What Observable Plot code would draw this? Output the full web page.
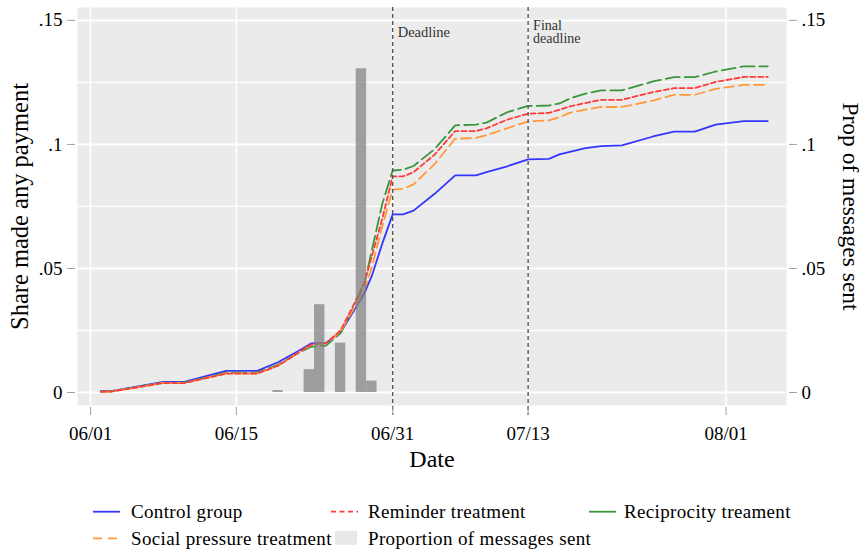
<!DOCTYPE html>
<html><head><meta charset="utf-8">
<script src="https://cdn.jsdelivr.net/npm/d3@7"></script>
<script src="https://cdn.jsdelivr.net/npm/@observablehq/plot@0.6"></script>
<style>
body{margin:0;background:#fff;}
#chart svg{display:block;}
#legend{display:block;}
</style></head>
<body><div id="chart"></div><div id="legendwrap"></div>
<script>
// day index: 0 = 06/01
const days =        [1, 2, 7, 9, 13, 16, 18, 20, 21.2, 22.6, 24, 25.3, 26.3, 27, 28, 29, 30, 31, 33, 35, 37, 38, 40, 42, 44, 45, 46, 47.5, 49, 51, 54, 56, 58, 60, 62.7, 65];
const control =     [.0006,.0006,.0043,.0043,.0087,.0087,.0122,.0168,.0198,.0200,.0242,.0331,.0402,.0470,.0600,.0718,.0718,.0733,.0800,.0875,.0875,.0888,.0912,.0940,.0942,.0960,.0970,.0985,.0993,.0996,.1032,.1052,.1052,.1080,.1094,.1094];
const reminder =    [.0003,.0004,.0038,.0038,.0076,.0076,.0108,.0162,.0194,.0199,.0250,.0357,.0445,.0550,.0700,.0871,.0871,.0888,.0958,.1054,.1054,.1065,.1100,.1124,.1127,.1140,.1153,.1167,.1180,.1180,.1211,.1227,.1227,.1252,.1272,.1272];
const social =      [.0003,.0004,.0039,.0039,.0077,.0077,.0108,.0163,.0192,.0197,.0245,.0340,.0415,.0505,.0670,.0818,.0821,.0839,.0920,.1023,.1026,.1037,.1065,.1093,.1097,.1110,.1127,.1140,.1151,.1151,.1177,.1200,.1200,.1224,.1240,.1240];
const reciprocity = [.0004,.0005,.0040,.0040,.0080,.0080,.0112,.0160,.0185,.0189,.0240,.0345,.0440,.0573,.0760,.0895,.0898,.0913,.0980,.1077,.1080,.1088,.1130,.1155,.1157,.1165,.1185,.1205,.1218,.1218,.1254,.1271,.1271,.1294,.1315,.1315];

const barDays =   [18, 21, 22, 24, 26, 27];
const barValues = [.0008, .0092, .0354, .0199, .1305, .0046];

const xTicks = [0, 14, 29, 42, 61];
const xTickLabels = ["06/01", "06/15", "06/31", "07/13", "08/01"];
const yTicks = [0, .05, .1, .15];
const yTickLabels = ["0", ".05", ".1", ".15"];
const yMinor = [.025, .075, .125];

const deadlineDays = [29, 42];
const deadlineLabels = ["Deadline", "Final\ndeadline"];

const seriesNames = ["Control group", "Reminder treatment", "Reciprocity treament", "Social pressure treatment"];
const barLabel = "Proportion of messages sent";
const xTitle = "Date";
const yTitle = "Share made any payment";
const y2Title = "Prop of messages sent";

const FONT = "'Liberation Serif', 'Times New Roman', serif";
const styles = {
  "Control group": {stroke: "#3535ff", dash: null},
  "Reminder treatment": {stroke: "#ff3a3a", dash: "5,3"},
  "Reciprocity treament": {stroke: "#3a963a", dash: "14,5"},
  "Social pressure treatment": {stroke: "#ff9a3a", dash: "10,5"}
};
const seriesValues = {
  "Control group": control,
  "Reminder treatment": reminder,
  "Reciprocity treament": reciprocity,
  "Social pressure treatment": social
};
const rows = name => days.map((d, i) => ({day: d, value: seriesValues[name][i]}));
const bars = barDays.map((d, i) => ({day: d, value: barValues[i]}));

const drawOrder = ["Control group", "Reciprocity treament", "Social pressure treatment", "Reminder treatment"];

const chart = Plot.plot({
  width: 866, height: 480,
  marginLeft: 77, marginRight: 80, marginTop: 7, marginBottom: 75,
  x: {domain: [-1.25, 66.8]},
  y: {domain: [-0.00524, 0.1552]},
  style: {fontFamily: FONT, fontSize: "19px", color: "#000", background: "#fff"},
  marks: [
    Plot.frame({fill: "#ebebeb", stroke: "none"}),
    Plot.gridY({ticks: yMinor, stroke: "#fff", strokeOpacity: 1, strokeWidth: 1.3}),
    Plot.gridY({ticks: yTicks, stroke: "#fff", strokeOpacity: 1, strokeWidth: 2}),
    Plot.gridX({ticks: xTicks, stroke: "#fff", strokeOpacity: 1, strokeWidth: 1.6}),
    ...drawOrder.map(name => Plot.line(rows(name), {
      x: "day", y: "value", stroke: styles[name].stroke,
      strokeDasharray: styles[name].dash, strokeWidth: 1.8, curve: "linear"
    })),
    Plot.rectY(bars, {x1: d => d.day - 0.5, x2: d => d.day + 0.5, y: "value", fill: "#808080", fillOpacity: 0.72}),
    Plot.ruleX(deadlineDays, {stroke: "#555", strokeDasharray: "4,3", strokeWidth: 1.4, insetBottom: -10}),
    Plot.text([deadlineLabels[0]], {x: () => deadlineDays[0], text: d => d, frameAnchor: "top", textAnchor: "start", lineAnchor: "top", dx: 5, dy: 19.5, fontSize: 14.5, fill: "#333"}),
    Plot.text([deadlineLabels[1]], {x: () => deadlineDays[1], text: d => d, frameAnchor: "top", textAnchor: "start", lineAnchor: "top", dx: 5, dy: 13, fontSize: 14, lineHeight: 0.95, fill: "#333"}),
    Plot.axisX({ticks: xTicks, tickFormat: d => xTickLabels[xTicks.indexOf(d)], tickSize: 8, tickPadding: 11, dy: 2, stroke: "#a0a0a0", fill: "#000", label: null, fontSize: 19}),
    Plot.axisY({ticks: yTicks, tickFormat: d => yTickLabels[yTicks.indexOf(d)], anchor: "left", tickSize: 8, tickPadding: 5, dx: -2, stroke: "#a0a0a0", fill: "#000", label: null, fontSize: 19}),
    Plot.axisY({ticks: yTicks, tickFormat: d => yTickLabels[yTicks.indexOf(d)], anchor: "right", tickSize: 8, tickPadding: 5, dx: 2, stroke: "#a0a0a0", fill: "#000", label: null, fontSize: 19}),
    Plot.text([yTitle], {text: d => d, frameAnchor: "left", textAnchor: "middle", lineAnchor: "middle", dx: -57, rotate: -90, fontSize: 24.5, fill: "#000"}),
    Plot.text([y2Title], {text: d => d, frameAnchor: "right", textAnchor: "middle", lineAnchor: "middle", dx: 64, rotate: 90, fontSize: 23.5, fill: "#000"}),
    Plot.text([xTitle], {text: d => d, frameAnchor: "bottom", textAnchor: "middle", lineAnchor: "middle", dy: 54, fontSize: 24, fill: "#000"})
  ]
});
document.getElementById("chart").appendChild(chart);

// Legend (below the plot)
const legendItems = [
  {label: seriesNames[0], col: 0, row: 0},
  {label: seriesNames[1], col: 1, row: 0},
  {label: seriesNames[2], col: 2, row: 0},
  {label: seriesNames[3], col: 0, row: 1},
  {label: barLabel, col: 1, row: 1, box: true}
];
const swatchX = [93, 331, 589];
const textX = [131, 368, 624];
const swatchY = [31.7, 58.3];
const textY = [38.3, 65];
const keyDash = {"Control group": null, "Reminder treatment": "5,3.5", "Reciprocity treament": null, "Social pressure treatment": "9,6"};

const lsvg = d3.select("#legendwrap").append("svg")
  .attr("id", "legend").attr("width", 866).attr("height", 74)
  .style("font-family", FONT);
legendItems.forEach(it => {
  const g = lsvg.append("g");
  if (it.box) {
    g.append("rect").attr("x", swatchX[it.col] + 4).attr("y", swatchY[it.row] - 7.5)
      .attr("width", 22).attr("height", 14).attr("fill", "#e8e8e8");
  } else {
    g.append("line").attr("x1", swatchX[it.col]).attr("x2", swatchX[it.col] + 27)
      .attr("y1", swatchY[it.row]).attr("y2", swatchY[it.row])
      .attr("stroke", styles[it.label].stroke).attr("stroke-width", 1.8)
      .attr("stroke-dasharray", keyDash[it.label]);
  }
  g.append("text").attr("x", textX[it.col]).attr("y", textY[it.row])
    .attr("font-size", 19).attr("letter-spacing", 0.35).attr("fill", "#000").text(it.label);
});
</script>
</body></html>
